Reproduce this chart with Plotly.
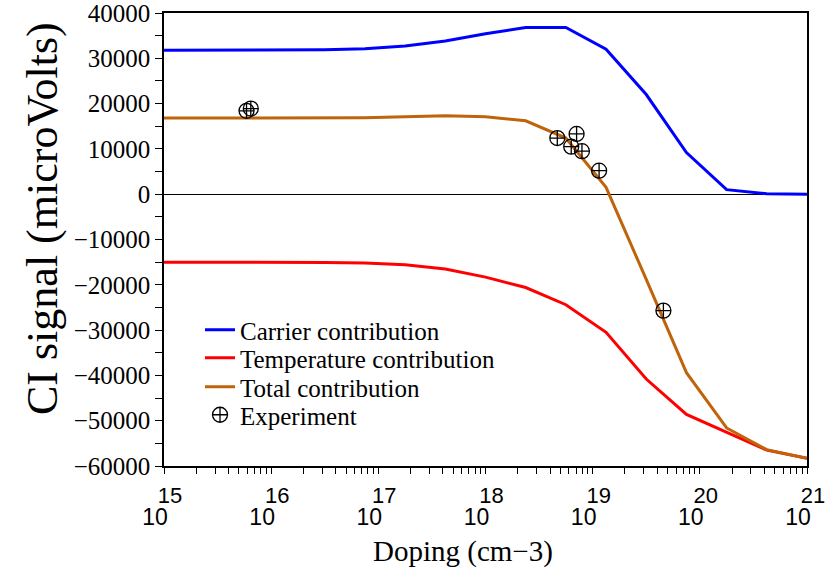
import plotly.graph_objects as go

# log10(doping) grid of the simulated curves
log_doping = [15.0, 15.375, 15.75, 16.125, 16.5, 16.875, 17.25, 17.625, 18.0,
              18.375, 18.75, 19.125, 19.5, 19.875, 20.25, 20.625, 21.0]
carrier = [31800, 31800, 31800, 31850, 31900, 32100, 32700, 33800, 35400,
           36800, 36800, 32000, 22000, 9200, 1000, 100, 0]
temperature = [-15000, -15000, -15000, -15000, -15050, -15200, -15600, -16500, -18300,
               -20600, -24400, -30500, -40800, -48600, -52600, -56500, -58300]
total = [16800, 16800, 16800, 16850, 16850, 16900, 17100, 17300, 17100,
         16200, 12400, 1500, -18800, -39400, -51600, -56400, -58300]

exp_log_doping = [15.77, 15.81, 18.67, 18.80, 18.85, 18.90, 19.06, 19.66]
experiment = [18400, 18900, 12400, 10500, 13300, 9500, 5200, -25700]

decades = [15, 16, 17, 18, 19, 20, 21]
y_major = list(range(-60000, 40001, 10000))
y_minor = list(range(-55000, 40000, 10000))

SERIF = "Liberation Serif, Times New Roman, serif"
SANS = "Liberation Sans, Arial, sans-serif"

doping = [10.0 ** v for v in log_doping]
exp_doping = [10.0 ** v for v in exp_log_doping]

# plot-area geometry (px)
L, R, T, B = 164, 18, 13, 106
H = 572 - T - B
W = 825 - L - R


def py(p):
    return 1 - (p - T) / H


def px(p):
    return (p - L) / W


fig = go.Figure()
fig.add_trace(go.Scatter(x=doping, y=carrier, mode="lines", name="Carrier contribution",
                         line=dict(color="#0000ff", width=3), legend="legend"))
fig.add_trace(go.Scatter(x=doping, y=temperature, mode="lines", name="Temperature contribution",
                         line=dict(color="#ff0000", width=3), legend="legend2"))
fig.add_trace(go.Scatter(x=doping, y=total, mode="lines", name="Total contribution",
                         line=dict(color="#bf640a", width=3), legend="legend3"))
fig.add_trace(go.Scatter(x=exp_doping, y=experiment, mode="markers", name="Experiment",
                         marker=dict(symbol="circle-cross-open", size=15, color="black",
                                     line=dict(color="black", width=1.3)), legend="legend4"))
# carrier of the exponent tick labels (nothing visible drawn)
fig.add_trace(go.Scatter(x=doping, y=carrier, mode="lines", xaxis="x2",
                         line=dict(width=0, color="rgba(0,0,0,0)"), showlegend=False,
                         hoverinfo="skip"))

# x ticks: decades labelled, 2..9 unlabelled
xt_vals, xt_text = [], []
for d in decades:
    xt_vals.append(10.0 ** d)
    xt_text.append("10")
    if d < 21:
        for m in range(2, 10):
            xt_vals.append(m * 10.0 ** d)
            xt_text.append("")
exp_vals = [10.0 ** d for d in decades]
exp_text = [str(d) for d in decades]

yt_vals = y_major + y_minor
yt_text = [("\u2212%d" % -v if v < 0 else "%d" % v) for v in y_major] + [""] * len(y_minor)

legend_rows = [330, 358, 387, 415]
leg = {}
for i, r in enumerate(legend_rows):
    key = "legend" if i == 0 else "legend%d" % (i + 1)
    leg[key] = dict(x=px(200), y=py(r), xanchor="left", yanchor="middle",
                    bgcolor="rgba(0,0,0,0)", borderwidth=0,
                    font=dict(family=SERIF, size=25, color="black"))

fig.update_layout(
    width=825, height=572,
    margin=dict(l=L, r=R, t=T, b=B),
    paper_bgcolor="white", plot_bgcolor="white",
    font=dict(family=SERIF, color="black"),
    showlegend=True,
    **leg,
    xaxis=dict(type="log", range=[15, 21], automargin=False,
               tickvals=xt_vals, ticktext=xt_text,
               ticks="outside", ticklen=6, tickcolor="black", tickwidth=1,
               showline=True, linecolor="black", linewidth=1.5, mirror=True,
               showgrid=False, zeroline=False, ticklabeloverflow="allow",
               tickfont=dict(family=SANS, size=23, color="black"),
               ticklabelshift=-9, ticklabelstandoff=24),
    xaxis2=dict(type="log", range=[15, 21], automargin=False,
                overlaying="x", anchor="y", side="bottom",
                tickvals=exp_vals, ticktext=exp_text,
                ticks="outside", ticklen=10, tickcolor="rgba(0,0,0,0)",
                showline=False, showgrid=False, zeroline=False,
                ticklabeloverflow="allow",
                tickfont=dict(family=SANS, size=22, color="black"),
                ticklabelshift=6),
    yaxis=dict(range=[-60000, 40000], automargin=False,
               tickvals=yt_vals, ticktext=yt_text,
               ticks="outside", ticklen=7, tickcolor="black", tickwidth=1,
               showline=True, linecolor="black", linewidth=1.5, mirror=True,
               showgrid=False, zeroline=True, zerolinecolor="black", zerolinewidth=1,
               ticklabeloverflow="allow",
               tickfont=dict(family=SERIF, size=25, color="black"),
               ticklabelstandoff=0),
    annotations=[
        dict(text="CI signal (microVolts)", xref="paper", yref="paper",
             x=px(42), y=py(219), xanchor="center", yanchor="middle",
             textangle=-90, showarrow=False,
             font=dict(family=SERIF, size=44, color="black")),
        dict(text="Doping (cm\u22123)", xref="paper", yref="paper",
             x=px(463), y=py(551), xanchor="center", yanchor="middle",
             showarrow=False,
             font=dict(family=SERIF, size=29, color="black")),
    ],
)

fig.write_html("out.html")
